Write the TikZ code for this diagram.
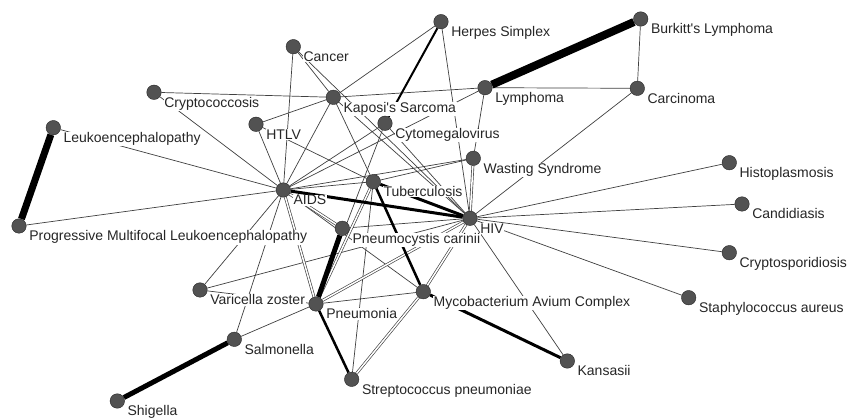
\documentclass[tikz,border=0pt]{standalone}
\usepackage{fontspec}
\setmainfont{Liberation Sans}[Ligatures=TeXOff]
\usetikzlibrary{calc}
\pgfdeclarelayer{edgelayer}
\pgfdeclarelayer{labellayer}
\pgfsetlayers{edgelayer,labellayer,main}
\begin{document}
\begin{tikzpicture}[x=1pt,y=-1pt,
  vtx/.style={circle,fill=black!68,draw=black!85,line width=0.4pt,minimum size=14.5pt,inner sep=0pt},
  lbl/.style={anchor=base west,fill=white,inner sep=0.6pt,font=\fontsize{14}{15}\selectfont,text=black!85},
  thinedge/.style={draw=black!75,line width=0.7pt},
  dbledge/.style={draw=black!75,line width=0.65pt,double=white,double distance=1.5pt},
  heavy/.style={draw=black,line width=#1}]
\useasboundingbox (0,0) rectangle (847,419);
% vertices
\node[vtx] (HS) at (441,21.7) {};
\node[vtx] (CA) at (293.3,46.7) {};
\node[vtx] (KS) at (333.3,97.3) {};
\node[vtx] (CMV) at (385,123.3) {};
\node[vtx] (HTLV) at (256,124.3) {};
\node[vtx] (LY) at (485,87.7) {};
\node[vtx] (BL) at (640.7,19) {};
\node[vtx] (CR) at (637.3,88.3) {};
\node[vtx] (CC) at (154,92.3) {};
\node[vtx] (LE) at (53.3,127.7) {};
\node[vtx] (PML) at (19,226) {};
\node[vtx] (AIDS) at (283.3,190) {};
\node[vtx] (TB) at (373.3,181.7) {};
\node[vtx] (WS) at (473.3,158.3) {};
\node[vtx] (HIV) at (470,218.3) {};
\node[vtx] (PC) at (342.3,228.3) {};
\node[vtx] (HP) at (729.3,162.7) {};
\node[vtx] (CD) at (742,204) {};
\node[vtx] (CS) at (729.3,252.7) {};
\node[vtx] (SA) at (688.7,297.7) {};
\node[vtx] (VZ) at (200,290) {};
\node[vtx] (PN) at (316,304) {};
\node[vtx] (MAC) at (423.3,291.7) {};
\node[vtx] (SAL) at (234.3,339.3) {};
\node[vtx] (SH) at (117.3,401) {};
\node[vtx] (SP) at (351.7,379.3) {};
\node[vtx] (KAN) at (567.3,361) {};
% labels
\begin{pgfonlayer}{labellayer}
\node[lbl] (HSl) at ($(HS)+(9.5,15)$) {Herpes Simplex};
\node[lbl] (CAl) at ($(CA)+(9.5,15)$) {Cancer};
\node[lbl] (KSl) at ($(KS)+(9.5,15)$) {Kaposi's Sarcoma};
\node[lbl] (CMVl) at ($(CMV)+(9.5,15)$) {Cytomegalovirus};
\node[lbl] (HTLVl) at ($(HTLV)+(9.5,15)$) {HTLV};
\node[lbl] (LYl) at ($(LY)+(9.5,15)$) {Lymphoma};
\node[lbl] (BLl) at ($(BL)+(9.5,15)$) {Burkitt's Lymphoma};
\node[lbl] (CRl) at ($(CR)+(9.5,15)$) {Carcinoma};
\node[lbl] (CCl) at ($(CC)+(9.5,15)$) {Cryptococcosis};
\node[lbl] (LEl) at ($(LE)+(9.5,15)$) {Leukoencephalopathy};
\node[lbl] (PMLl) at ($(PML)+(9.5,15)$) {Progressive Multifocal Leukoencephalopathy};
\node[lbl] (AIDSl) at ($(AIDS)+(9.5,15)$) {AIDS};
\node[lbl] (TBl) at ($(TB)+(9.5,15)$) {Tuberculosis};
\node[lbl] (WSl) at ($(WS)+(9.5,15)$) {Wasting Syndrome};
\node[lbl] (HIVl) at ($(HIV)+(9.5,15)$) {HIV};
\node[lbl] (PCl) at ($(PC)+(9.5,15)$) {Pneumocystis carinii};
\node[lbl] (HPl) at ($(HP)+(9.5,15)$) {Histoplasmosis};
\node[lbl] (CDl) at ($(CD)+(9.5,15)$) {Candidiasis};
\node[lbl] (CSl) at ($(CS)+(9.5,15)$) {Cryptosporidiosis};
\node[lbl] (SAl) at ($(SA)+(9.5,15)$) {Staphylococcus aureus};
\node[lbl] (VZl) at ($(VZ)+(9.5,15)$) {Varicella zoster};
\node[lbl] (PNl) at ($(PN)+(9.5,15)$) {Pneumonia};
\node[lbl] (MACl) at ($(MAC)+(9.5,15)$) {Mycobacterium Avium Complex};
\node[lbl] (SALl) at ($(SAL)+(9.5,15)$) {Salmonella};
\node[lbl] (SHl) at ($(SH)+(9.5,15)$) {Shigella};
\node[lbl] (SPl) at ($(SP)+(9.5,15)$) {Streptococcus pneumoniae};
\node[lbl] (KANl) at ($(KAN)+(9.5,15)$) {Kansasii};
\end{pgfonlayer}
% edges
\begin{pgfonlayer}{edgelayer}
\fill[white] (0,0) rectangle (847,419);
% thin
\draw[thinedge] (HS) -- (KS);
\draw[thinedge] (HS) -- (HIV);
\draw[thinedge] (CA) -- (AIDS);
\draw[thinedge] (CA) -- (KS);
\draw[thinedge] (CA) -- (HIV);
\draw[thinedge] (CC) -- (KS);
\draw[thinedge] (CC) -- (AIDS);
\draw[thinedge] (HTLV) -- (KS);
\draw[thinedge] (HTLV) -- (AIDS);
\draw[thinedge] (HTLV) -- (TB);
\draw[thinedge] (KS) -- (LY);
\draw[thinedge] (KS) -- (AIDS);
\draw[thinedge] (KS) -- (TB);
\draw[thinedge] (KS) -- (HIV);
\draw[thinedge] (LY) -- (CR);
\draw[thinedge] (LY) -- (WS);
\draw[thinedge] (LY) -- (AIDS);
\draw[thinedge] (BL) -- (CR);
\draw[thinedge] (CR) -- (HIV);
\draw[thinedge] (CMV) -- (AIDS);
\draw[thinedge] (CMV) -- (PN);
\draw[thinedge] (CMV) -- (HIV);
\draw[thinedge] (LE) -- (AIDS);
\draw[thinedge] (PML) -- (AIDS);
\draw[thinedge] (AIDS) -- (TB);
\draw[thinedge] (AIDS) -- (WS);
\draw[thinedge] (AIDS) -- (VZ);
\draw[thinedge] (AIDS) -- (SAL);
\draw[thinedge] (AIDS) -- (MAC);
\draw[thinedge] (TB) -- (WS);
\draw[thinedge] (TB) -- (SP);
\draw[thinedge] (HIV) -- (HP);
\draw[thinedge] (HIV) -- (CD);
\draw[thinedge] (HIV) -- (CS);
\draw[thinedge] (HIV) -- (SA);
\draw[thinedge] (HIV) -- (KAN);
\draw[thinedge] (HIV) -- (PC);
\draw[thinedge] (HIV) -- (VZ);
\draw[thinedge] (VZ) -- (PN);
\draw[thinedge] (SAL) -- (PN);
\draw[thinedge] (PN) -- (MAC);
% double
\draw[dbledge] (AIDS) -- (PC);
\draw[dbledge] (AIDS) -- (PN);
\draw[dbledge] (WS) -- (HIV);
\draw[dbledge] (TB) -- (PN);
\draw[dbledge] (PN) -- (HIV);
\draw[dbledge] (MAC) -- (HIV);
\draw[dbledge] (SP) -- (MAC);
% heavy
\draw[heavy=8pt] (LY) -- (BL);
\draw[heavy=7pt] (LE) -- (PML);
\draw[heavy=5pt] (SAL) -- (SH);
\draw[heavy=5pt] (PC) -- (PN);
\draw[heavy=3pt] (MAC) -- (KAN);
\draw[heavy=3pt] (AIDS) -- (HIV);
\draw[heavy=3pt] (TB) -- (HIV);
\draw[heavy=2.5pt] (TB) -- (MAC);
\draw[heavy=2pt] (HS) -- (CMV);
\draw[heavy=2.5pt] (PN) -- (SP);
\end{pgfonlayer}
\end{tikzpicture}
\end{document}
